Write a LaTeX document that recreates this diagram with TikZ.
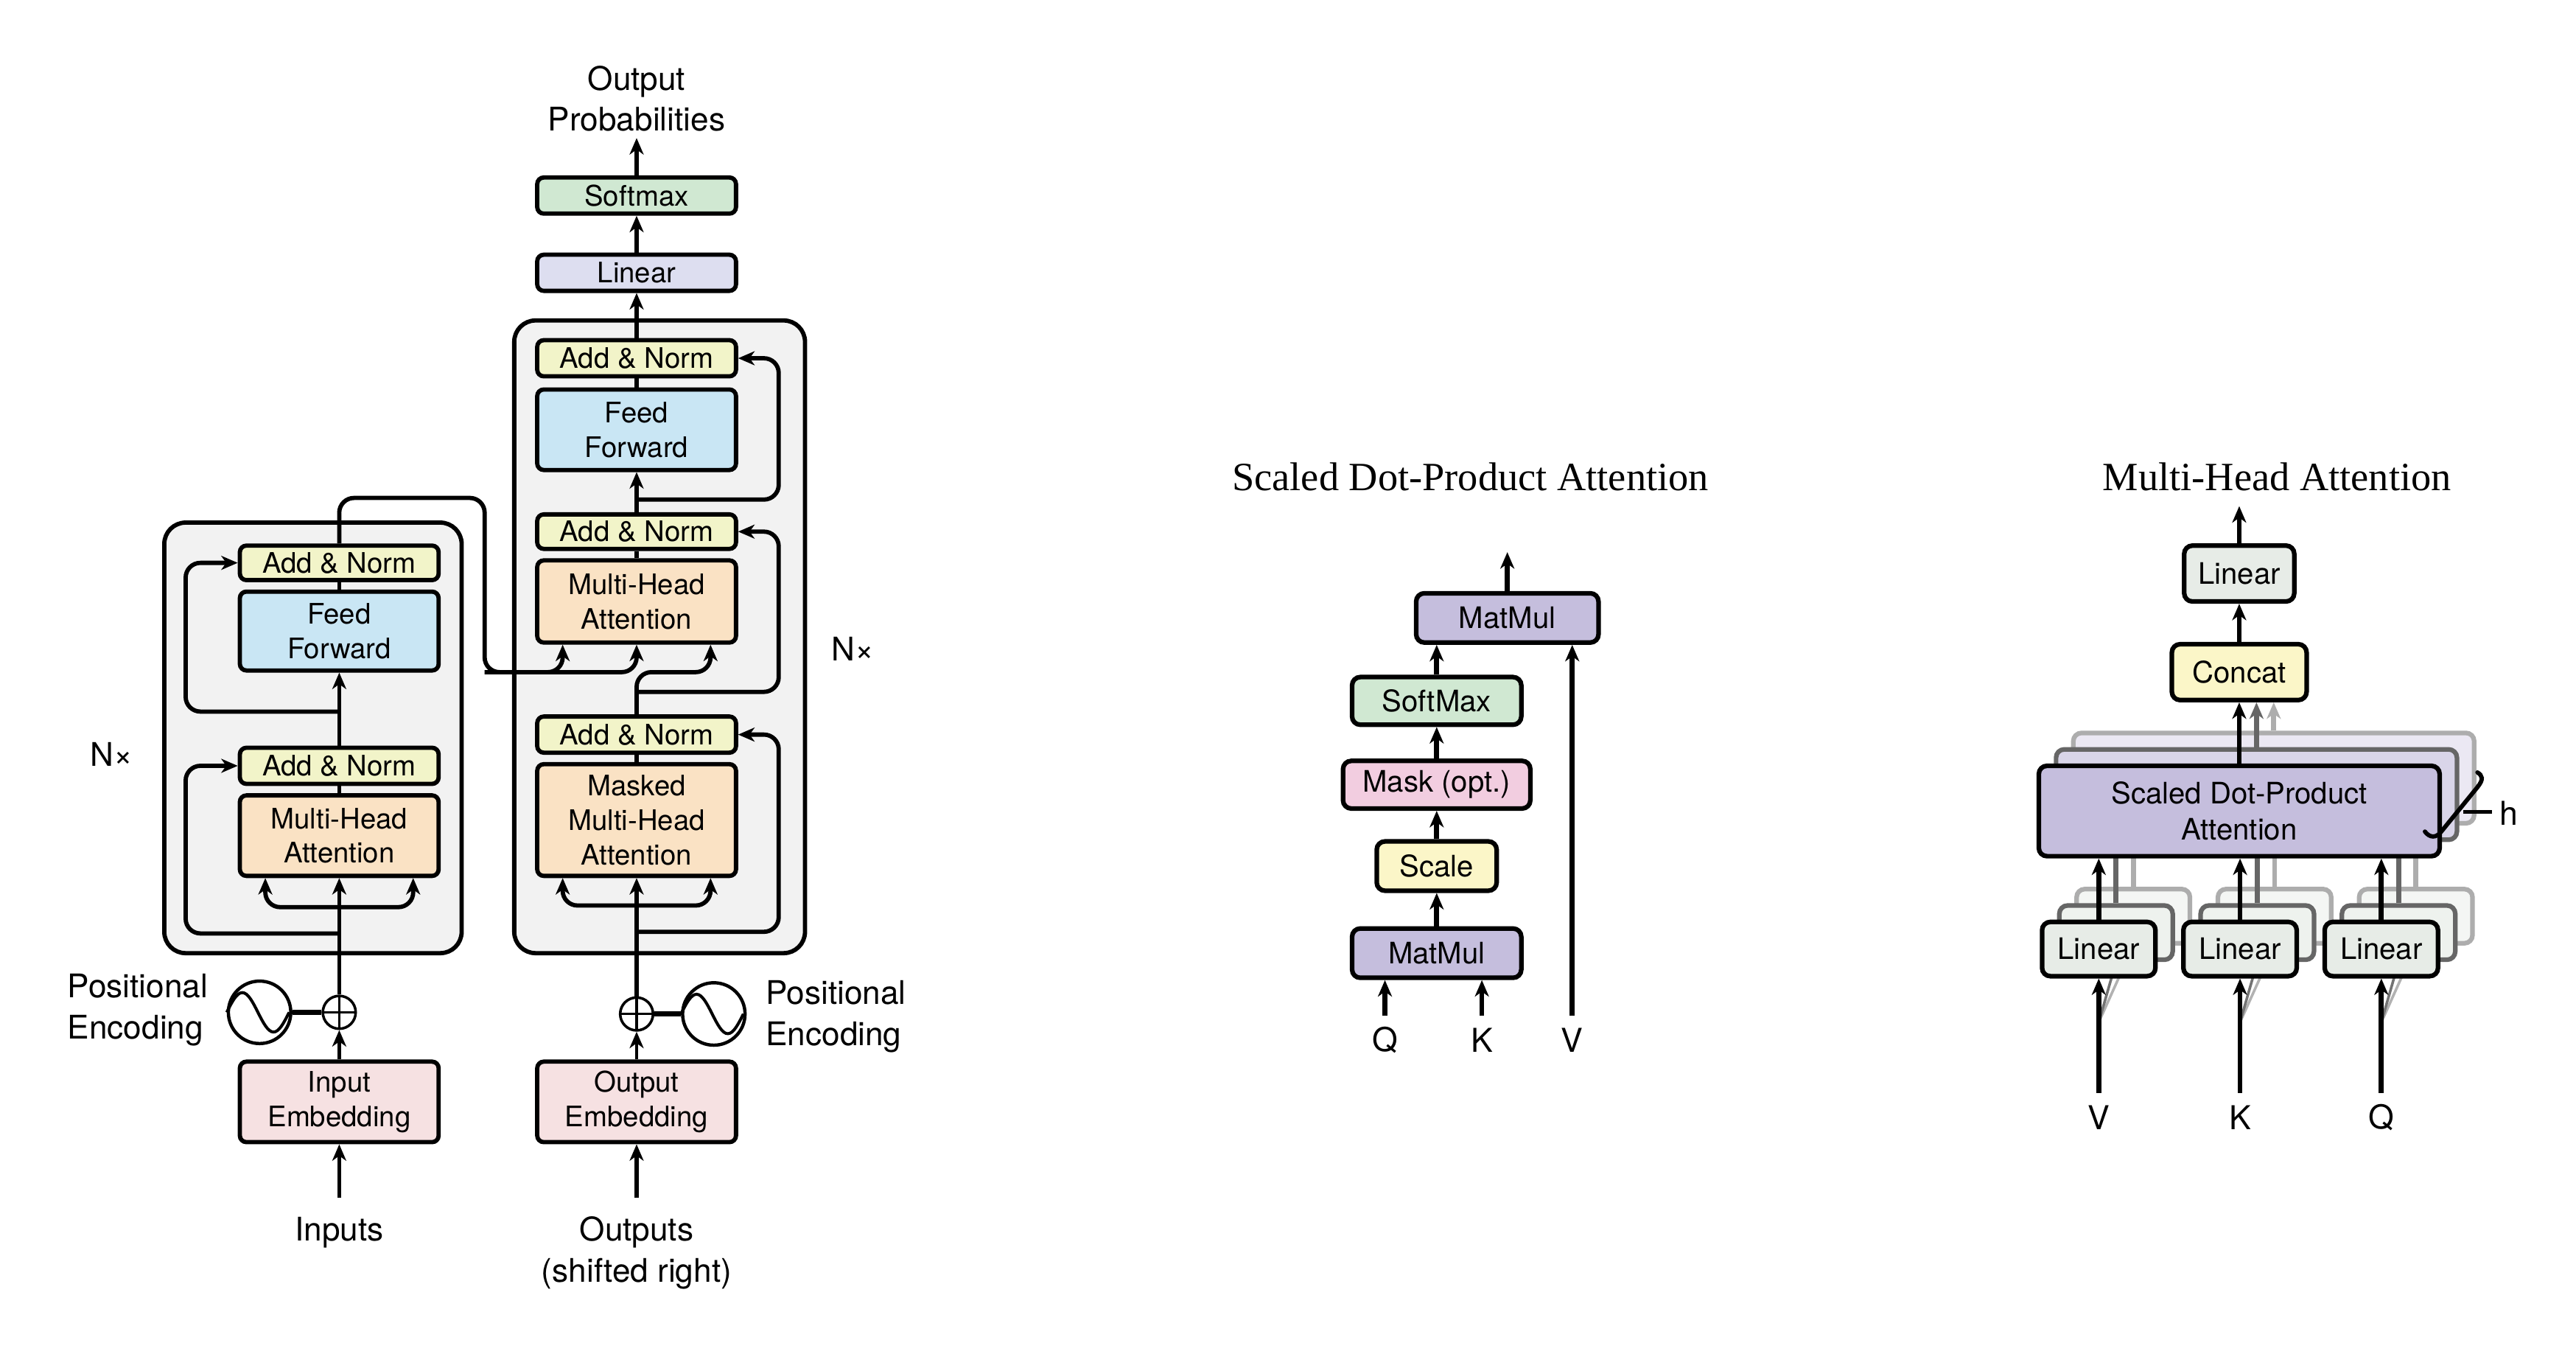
\documentclass[tikz,border=0pt]{standalone}
\usepackage{fontspec}
\setmainfont{TeX Gyre Heros}
\newfontfamily\ttlfont{Liberation Serif}
\usetikzlibrary{arrows.meta}
\definecolor{cAN}{HTML}{F2F4C9}
\definecolor{cFF}{HTML}{C9E6F4}
\definecolor{cMHA}{HTML}{FAE2C4}
\definecolor{cEmb}{HTML}{F6E1E2}
\definecolor{cLin}{HTML}{DDDEF0}
\definecolor{cSoft}{HTML}{D0E8D2}
\definecolor{cCont}{HTML}{F2F2F2}
\definecolor{cMat}{HTML}{C5BEDD}
\definecolor{cMask}{HTML}{F2CDE0}
\definecolor{cScale}{HTML}{FBF6C8}
\definecolor{cLinG}{HTML}{E7ECE7}
\begin{document}
\begin{tikzpicture}[x=1pt,y=-1pt,
  >={Stealth[length=10pt,width=8.5pt,inset=3pt]},
  tbox/.style={draw, line width=2.6pt, rounded corners=4pt, inner sep=0pt, align=center, minimum width=121pt, font=\fontsize{17.2}{21}\selectfont},
  mbox/.style={draw, line width=2.8pt, rounded corners=5pt, inner sep=0pt, align=center, font=\fontsize{18}{22}\selectfont},
  cont/.style={draw, line width=2.6pt, rounded corners=13pt, fill=cCont, inner sep=0pt},
  ln/.style={line width=2.6pt},
  arr/.style={line width=2.6pt, ->},
  rarr/.style={line width=2.6pt, ->, rounded corners=9pt},
  arrm/.style={line width=3pt, ->},
  lbl/.style={font=\fontsize{19.8}{25}\selectfont, align=center, inner sep=0pt},
  qkv/.style={font=\fontsize{20}{24}\selectfont, inner sep=0pt},
  ttl/.style={font=\ttlfont\fontsize{24.4}{28}\selectfont, inner sep=0pt},
  plusc/.style={circle, draw, line width=1.6pt, fill=white, minimum size=20pt, inner sep=0pt,
    path picture={\draw[line width=1.4pt] (path picture bounding box.north) -- (path picture bounding box.south) (path picture bounding box.west) -- (path picture bounding box.east);}},
  sinec/.style={circle, draw, line width=2pt, fill=white, minimum size=38pt, inner sep=0pt},
]
\useasboundingbox (0,0) rectangle (1568,823.5);
\fill[white] (0,0) rectangle (1568,823.5);

% ================= Transformer =================
\node[cont, minimum width=181pt, minimum height=262pt] (enc) at (190.5,449) {};
\node[cont, minimum width=177pt, minimum height=385pt] (dec) at (401.5,387.5) {};

% encoder boxes
\node[tbox, fill=cAN, minimum height=21pt] (encAN2) at (206.5,342.5) {Add \& Norm};
\node[tbox, fill=cFF, minimum height=48pt] (encFF) at (206.5,384) {Feed\\Forward};
\node[tbox, fill=cAN, minimum height=22pt] (encAN1) at (206.5,466) {Add \& Norm};
\node[tbox, fill=cMHA, minimum height=49pt] (encMHA) at (206.5,508.5) {Multi-Head\\Attention};
\node[tbox, fill=cEmb, minimum height=49pt] (inEmb) at (206.5,670.5) {Input\\Embedding};

% decoder boxes
\node[tbox, fill=cSoft, minimum height=22pt] (softmax) at (387.5,119) {Softmax};
\node[tbox, fill=cLin, minimum height=22pt] (linear) at (387.5,166) {Linear};
\node[tbox, fill=cAN, minimum height=22pt] (decAN3) at (387.5,218) {Add \& Norm};
\node[tbox, fill=cFF, minimum height=49pt] (decFF) at (387.5,261.5) {Feed\\Forward};
\node[tbox, fill=cAN, minimum height=21pt] (decAN2) at (387.5,323.5) {Add \& Norm};
\node[tbox, fill=cMHA, minimum height=50pt] (decMHA) at (387.5,366) {Multi-Head\\Attention};
\node[tbox, fill=cAN, minimum height=22pt] (decAN1) at (387.5,447) {Add \& Norm};
\node[tbox, fill=cMHA, minimum height=68pt] (decMMHA) at (387.5,499) {Masked\\Multi-Head\\Attention};
\node[tbox, fill=cEmb, minimum height=49pt] (outEmb) at (387.5,670.5) {Output\\Embedding};

% positional encodings
\node[plusc] (encPlus) at (206.5,616) {};
\node[sinec] (encSin) at (158,616) {};
\draw[line width=1.8pt] (encSin.west) sin ++(9.5,-12) cos ++(9.5,12) sin ++(9.5,12) cos ++(9.5,-12);
\draw[line width=3pt] (encSin.east) -- (encPlus.west);
\node[plusc] (decPlus) at (387.5,617) {};
\node[sinec] (decSin) at (434.5,617) {};
\draw[line width=1.8pt] (decSin.west) sin ++(9.5,-12) cos ++(9.5,12) sin ++(9.5,12) cos ++(9.5,-12);
\draw[line width=3pt] (decSin.west) -- (decPlus.east);

% labels
\node[lbl] (outprob) at (387.5,60) {Output\\Probabilities};
\node[lbl] (inputs) at (206.5,750) {Inputs};
\node[lbl] (outputs) at (387.5,762.5) {Outputs\\(shifted right)};
\node[lbl, align=left, anchor=west] (pe1) at (41,614.5) {Positional\\Encoding};
\node[lbl, align=left, anchor=west] (pe2) at (466,618.5) {Positional\\Encoding};
\node[lbl] (nx1) at (68,459) {N×};
\node[lbl] (nx2) at (519,395) {N×};

% encoder connectors
\coordinate (inA) at (206.5,729);
\draw[arr] (inA) -- (inEmb.south);
\draw[line width=2.2pt, ->] (inEmb.north) -- (encPlus.south);
\draw[arr] (encPlus.north) -- (encMHA.south);
\coordinate (encFork) at (206.5,552);
\draw[rarr] (encFork) -| ([xshift=-45pt]encMHA.south);
\draw[rarr] (encFork) -| ([xshift=45pt]encMHA.south);
\coordinate (encRes1) at (206.5,568);
\draw[rarr] (encRes1) -| (113,466) -- (encAN1.west);
\draw[ln] (encMHA.north) -- (encAN1.south);
\draw[arr] (encAN1.north) -- (encFF.south);
\coordinate (encRes2) at (206.5,433);
\draw[rarr] (encRes2) -| (113,342.5) -- (encAN2.west);
\draw[ln] (encFF.north) -- (encAN2.south);
% encoder output to decoder
\coordinate (encOut) at (295,409);
\draw[rarr] (encAN2.north) -- (206.5,303) -- (295,303) -- (encOut) -| (decMHA.south);
\draw[rarr] (encOut) -| ([xshift=-45pt]decMHA.south);

% decoder connectors
\coordinate (outA) at (387.5,729);
\draw[arr] (outA) -- (outEmb.south);
\draw[line width=2.2pt, ->] (outEmb.north) -- (decPlus.south);
\draw[arr] (decPlus.north) -- (decMMHA.south);
\coordinate (decFork) at (387.5,551);
\draw[rarr] (decFork) -| ([xshift=-45pt]decMMHA.south);
\draw[rarr] (decFork) -| ([xshift=45pt]decMMHA.south);
\coordinate (decRes1) at (387.5,567);
\draw[rarr] (decRes1) -| (474,447) -- (decAN1.east);
\draw[ln] (decMMHA.north) -- (decAN1.south);
\draw[rarr] (decAN1.north) -- (387.5,409) -| ([xshift=45pt]decMHA.south);
\coordinate (decRes2) at (387.5,421);
\draw[rarr] (decRes2) -| (474,323.5) -- (decAN2.east);
\draw[ln] (decMHA.north) -- (decAN2.south);
\draw[arr] (decAN2.north) -- (decFF.south);
\coordinate (decRes3) at (387.5,304);
\draw[rarr] (decRes3) -| (474,218) -- (decAN3.east);
\draw[ln] (decFF.north) -- (decAN3.south);
\draw[arr] (decAN3.north) -- (linear.south);
\draw[arr] (linear.north) -- (softmax.south);
\coordinate (probA) at (387.5,84);
\draw[arr] (softmax.north) -- (probA);

% ================= Scaled Dot-Product Attention =================
\node[ttl] (t1) at (895,290) {Scaled Dot-Product Attention};
\node[mbox, fill=cMat, minimum width=111pt, minimum height=30pt] (mm2) at (917.5,376) {MatMul};
\node[mbox, fill=cSoft, minimum width=103pt, minimum height=29pt] (smx) at (874.5,426.5) {SoftMax};
\node[mbox, fill=cMask, minimum width=114pt, minimum height=29pt] (mask) at (874.5,477.5) {Mask (opt.)};
\node[mbox, fill=cScale, minimum width=73pt, minimum height=30pt] (scl) at (874.5,527) {Scale};
\node[mbox, fill=cMat, minimum width=103pt, minimum height=30pt] (mm1) at (874.5,580) {MatMul};
\draw[arrm] (mm1.north) -- (scl.south);
\draw[arrm] (scl.north) -- (mask.south);
\draw[arrm] (mask.north) -- (smx.south);
\draw[arrm] (smx.north) -- (smx.north |- mm2.south);
\coordinate (sOut) at (917.5,336);
\draw[arrm] (mm2.north) -- (sOut);
\coordinate (qA) at (843,618);
\coordinate (kA) at (902,618);
\coordinate (vA) at (957,618);
\draw[arrm] (qA) -- (qA |- mm1.south);
\draw[arrm] (kA) -- (kA |- mm1.south);
\draw[arrm] (vA) -- (vA |- mm2.south);
\node[qkv] (sq) at (843,633) {Q};
\node[qkv] (sk) at (902,633) {K};
\node[qkv] (sv) at (957,633) {V};

% ================= Multi-Head Attention =================
\node[ttl] (t2) at (1386,290) {Multi-Head Attention};
% back layer (3)
\node[mbox, draw=black!32, fill=cMat!35, minimum width=244pt, minimum height=55pt] (sdpa3) at (1384,473.5) {};
\node[mbox, draw=black!32, fill=cLinG!45, minimum width=69pt, minimum height=33pt] (lv3) at (1298.5,557.5) {};
\node[mbox, draw=black!32, fill=cLinG!45, minimum width=69pt, minimum height=33pt] (lk3) at (1384.5,557.5) {};
\node[mbox, draw=black!32, fill=cLinG!45, minimum width=69pt, minimum height=33pt] (lq3) at (1470.5,557.5) {};
\draw[line width=3pt, black!32] (lv3.north) -- (lv3.north |- sdpa3.south);
\draw[line width=3pt, black!32] (lk3.north) -- (lk3.north |- sdpa3.south);
\draw[line width=3pt, black!32] (lq3.north) -- (lq3.north |- sdpa3.south);
% middle layer (2)
\node[mbox, draw=black!60, fill=cMat!65, minimum width=244pt, minimum height=55pt] (sdpa2) at (1373.5,483.5) {};
\node[mbox, draw=black!60, fill=cLinG!70, minimum width=69pt, minimum height=33pt] (lv2) at (1288,567.5) {};
\node[mbox, draw=black!60, fill=cLinG!70, minimum width=69pt, minimum height=33pt] (lk2) at (1374,567.5) {};
\node[mbox, draw=black!60, fill=cLinG!70, minimum width=69pt, minimum height=33pt] (lq2) at (1460,567.5) {};
\draw[line width=3pt, black!60] (lv2.north) -- (lv2.north |- sdpa2.south);
\draw[line width=3pt, black!60] (lk2.north) -- (lk2.north |- sdpa2.south);
\draw[line width=3pt, black!60] (lq2.north) -- (lq2.north |- sdpa2.south);
% input fan lines
\coordinate (vIn) at (1277.5,665);
\coordinate (kIn) at (1363.5,665);
\coordinate (qIn) at (1449.5,665);
\coordinate (vF) at (1277.5,622);
\coordinate (kF) at (1363.5,622);
\coordinate (qF) at (1449.5,622);
\draw[line width=1.6pt, black!30] (vF) -- (lv3.south);
\draw[line width=1.6pt, black!55] (vF) -- (lv2.south);
\draw[line width=1.6pt, black!30] (kF) -- (lk3.south);
\draw[line width=1.6pt, black!55] (kF) -- (lk2.south);
\draw[line width=1.6pt, black!30] (qF) -- (lq3.south);
\draw[line width=1.6pt, black!55] (qF) -- (lq2.south);
% front layer
\node[mbox, fill=cMat, minimum width=244pt, minimum height=55pt] (sdpa) at (1363,493.5) {Scaled Dot-Product\\Attention};
\node[mbox, fill=cLinG, minimum width=69pt, minimum height=33pt] (lv) at (1277.5,577.5) {Linear};
\node[mbox, fill=cLinG, minimum width=69pt, minimum height=33pt] (lk) at (1363.5,577.5) {Linear};
\node[mbox, fill=cLinG, minimum width=69pt, minimum height=33pt] (lq) at (1449.5,577.5) {Linear};
\node[mbox, fill=cScale, minimum width=82pt, minimum height=34pt] (concat) at (1363,409) {Concat};
\node[mbox, fill=cLinG, minimum width=67pt, minimum height=34pt] (mlin) at (1363,349) {Linear};
\draw[arrm] (lv.north) -- (lv.north |- sdpa.south);
\draw[arrm] (lk.north) -- (lk.north |- sdpa.south);
\draw[arrm] (lq.north) -- (lq.north |- sdpa.south);
\draw[arrm] (vIn) -- (lv.south);
\draw[arrm] (kIn) -- (lk.south);
\draw[arrm] (qIn) -- (lq.south);
\draw[arrm, black!32] (sdpa3.north) -- (sdpa3.north |- concat.south);
\draw[arrm, black!60] (sdpa2.north) -- (sdpa2.north |- concat.south);
\draw[arrm] (sdpa.north) -- (concat.south);
\draw[arrm] (concat.north) -- (mlin.south);
\coordinate (mOut) at (1363,308);
\draw[arrm] (mlin.north) -- (mOut);
% h bracket
\draw[line width=2.6pt, line cap=round] (1476,506) .. controls (1479,510) and (1483,510) .. (1486,506) -- (1508,479) .. controls (1512,474) and (1511,472) .. (1508,470);
\draw[line width=2pt] (1499.5,494) -- (1517,494);
\node[qkv] (hl) at (1527,495) {h};
\node[qkv] (mv) at (1277.5,680) {V};
\node[qkv] (mk) at (1363.5,680) {K};
\node[qkv] (mq) at (1449.5,680) {Q};
\end{tikzpicture}
\end{document}
